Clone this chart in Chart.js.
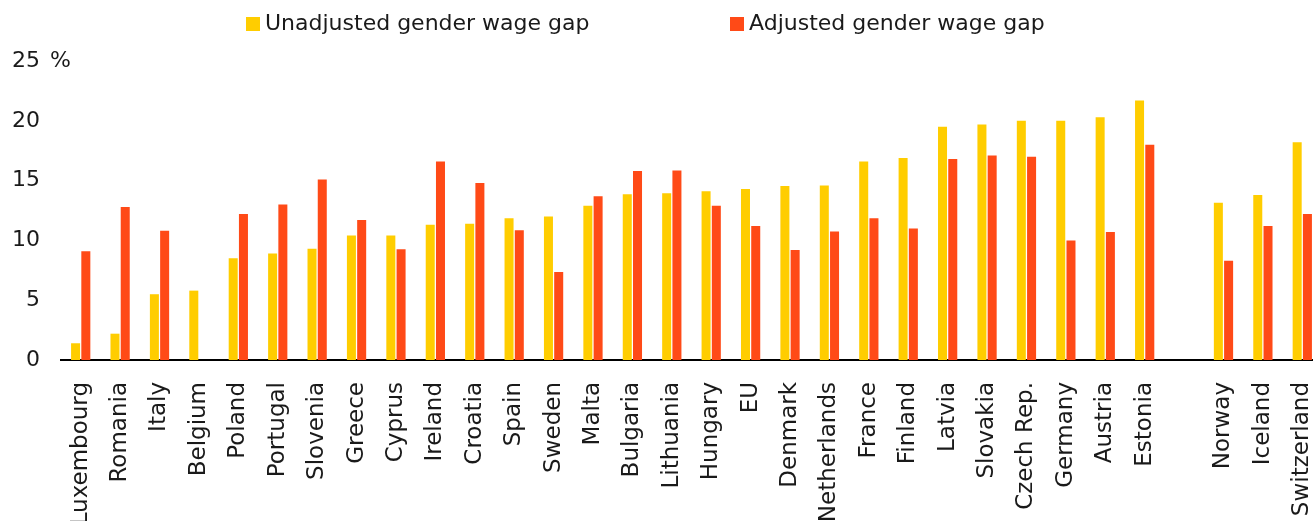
<!DOCTYPE html>
<html>
<head>
<meta charset="utf-8">
<script src="https://cdn.jsdelivr.net/npm/chart.js@4/dist/chart.umd.min.js"></script>
<style>
  html, body { margin: 0; padding: 0; background: #fff; overflow: hidden; }
  #wrap { position: relative; width: 1324px; height: 521px; }
</style>
</head>
<body>
<div id="wrap"><canvas id="myChart"></canvas></div>
<script>
// Datos del gráfico
const countries = ['Luxembourg', 'Romania', 'Italy', 'Belgium', 'Poland', 'Portugal', 'Slovenia', 'Greece',
  'Cyprus', 'Ireland', 'Croatia', 'Spain', 'Sweden', 'Malta', 'Bulgaria', 'Lithuania', 'Hungary', 'EU',
  'Denmark', 'Netherlands', 'France', 'Finland', 'Latvia', 'Slovakia', 'Czech Rep.', 'Germany', 'Austria',
  'Estonia', '', 'Norway', 'Iceland', 'Switzerland'];
const unadjusted = [1.4, 2.2, 5.5, 5.8, 8.5, 8.9, 9.3, 10.4, 10.4, 11.3, 11.4, 11.85, 12.0, 12.9, 13.85, 13.95,
  14.1, 14.3, 14.55, 14.6, 16.6, 16.9, 19.5, 19.7, 20.0, 20.0, 20.3, 21.7, null, 13.15, 13.8, 18.2];
const adjusted = [9.1, 12.8, 10.8, null, 12.2, 13.0, 15.1, 11.7, 9.25, 16.6, 14.8, 10.85, 7.35, 13.7, 15.8, 15.85,
  12.9, 11.2, 9.2, 10.75, 11.85, 11.0, 16.8, 17.1, 17.0, 10.0, 10.7, 18.0, null, 8.3, 11.2, 12.2];
const yTicks = [0, 5, 10, 15, 20, 25];
const unit = '%';

const textColor = '#1a1a1a';
const fontName = 'DejaVu Sans';

// Leyenda dibujada a mano (los items están muy separados)
const legendPlugin = {
  id: 'customLegend',
  afterDraw(chart) {
    const c = chart.ctx;
    const xs = [246, 730];
    c.save();
    c.font = '22px "' + fontName + '"';
    c.textBaseline = 'middle';
    c.textAlign = 'left';
    chart.data.datasets.forEach((ds, i) => {
      c.fillStyle = ds.backgroundColor;
      c.fillRect(xs[i], 17, 14, 14);
      c.fillStyle = textColor;
      c.fillText(ds.label, xs[i] + 19, 24);
    });
    c.restore();
  }
};

// Signo de % junto al tick superior
const unitPlugin = {
  id: 'unitLabel',
  afterDraw(chart) {
    const c = chart.ctx;
    const y = chart.scales.y.getPixelForValue(yTicks[yTicks.length - 1]);
    c.save();
    c.font = '22px "' + fontName + '"';
    c.fillStyle = textColor;
    c.textBaseline = 'middle';
    c.textAlign = 'left';
    c.fillText(unit, 50, y);
    c.restore();
  }
};

let ctx = document.getElementById('myChart');
let chart = new Chart(ctx, {
  type: 'bar',
  data: {
    labels: countries,
    datasets: [{
      label: 'Unadjusted gender wage gap',
      data: unadjusted,
      backgroundColor: '#FFCD00',
      categoryPercentage: 0.52,
      barPercentage: 0.88
    }, {
      label: 'Adjusted gender wage gap',
      data: adjusted,
      backgroundColor: '#FF4A17',
      categoryPercentage: 0.52,
      barPercentage: 0.88
    }]
  },
  options: {
    responsive: true,
    maintainAspectRatio: false,
    animation: false,
    layout: { padding: { top: 61, right: 2, left: 0, bottom: 0 } },
    plugins: {
      legend: { display: false },
      tooltip: { enabled: false }
    },
    scales: {
      x: {
        grid: { display: false, drawTicks: false },
        border: { display: true, color: '#000', width: 2 },
        ticks: {
          autoSkip: false,
          minRotation: 90,
          maxRotation: 90,
          padding: 22,
          color: textColor,
          font: { family: fontName, size: 23 }
        },
        afterFit(scale) {
          scale.height = 161;
          scale.paddingLeft = 0;
          scale.paddingRight = 0;
        }
      },
      y: {
        min: 0,
        max: 25,
        grid: { display: false, drawTicks: false },
        border: { display: false },
        afterBuildTicks(scale) { scale.ticks = yTicks.map(v => ({ value: v })); },
        ticks: {
          padding: 21,
          color: textColor,
          font: { family: fontName, size: 22 }
        },
        afterFit(scale) { scale.width = 61; }
      }
    }
  },
  plugins: [legendPlugin, unitPlugin]
});
</script>
</body>
</html>
